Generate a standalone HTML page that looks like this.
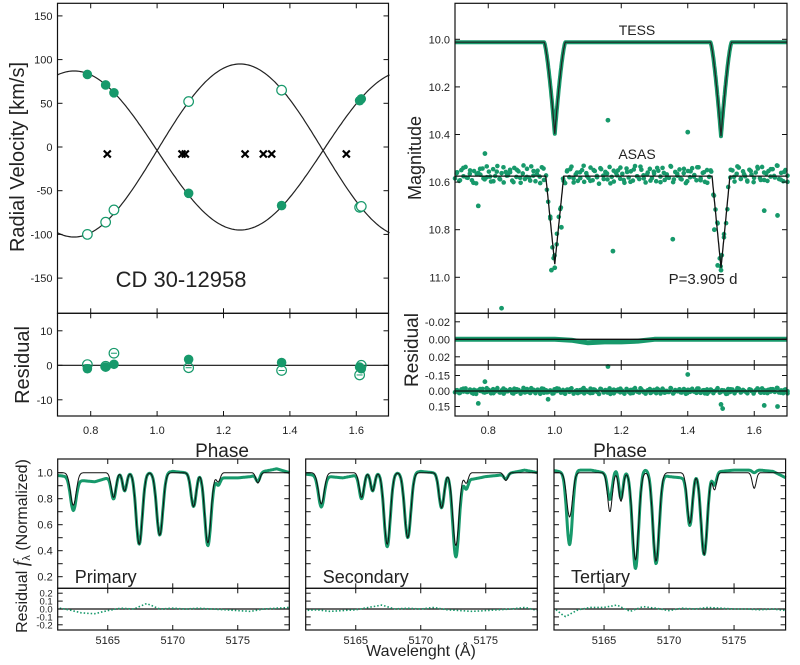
<!DOCTYPE html>
<html><head><meta charset="utf-8"><style>
html,body{margin:0;padding:0;background:#fff;}
svg{display:block;font-family:"Liberation Sans",sans-serif;}
</style></head><body>
<svg id="fig" width="800" height="665" viewBox="0 0 800 665" xmlns="http://www.w3.org/2000/svg"></svg>
<script>
// ---------- DATA ----------
const rvGamma = -4;
const rvK1 = 91;
const rvK2 = 99;
const rvPrimPhase = [0.79,0.845,0.87,1.095,1.375,1.61,1.615];
const rvPrimVel = [83,71,62,-53,-67,53,55];
const rvSecPhase = [0.79,0.845,0.87,1.095,1.375,1.61,1.615];
const rvSecVel = [-100,-86,-72,52,65,-69,-68];
const rvTerPhase = [0.85,1.075,1.085,1.265,1.32,1.345,1.57];
const rvTerVel = [-8,-8,-8,-8,-8,-8,-8];
const rvPrimRes = [-1,-0.5,0.3,1.7,0.8,-0.5,-1];
const rvSecRes = [0.2,-0.3,3.5,-0.7,-1.5,-2.8,0];
const rvYTicks = [150,100,50,0,-50,-100,-150];
const rvResTicks = [10,0,-10];
const phaseTicks = [0.8,1.0,1.2,1.4,1.6];
const ecCenters = [1.0,1.5];
const tessBase = 10.012;
const tessDepths = [0.385,0.395];
const tessWidth = 0.032;
const asasBase = 10.575;
const asasDepths = [0.37,0.385];
const asasWidth = 0.027;
const asasRes = [12,-8,20,-15,5,-25,10,-3,18,-12,28,-6,0,-20,15,8,-10,22,-18,4,-28,13,-5,25,-9,2,-16,19,-22,7,-11,26,-4,14,-19,9,-27,3,21,-13,6,-24,17,-7,11,-2,24,-17,1,-21,16,-10,27,-14,8,-26,12,-1,20,-8,-15,23,-5,10,-23,18,-12,4,29,-18,3,-9,15,-25,7,22,-6,-14,13,-3,26,-20,9,-11,19,-28,5,14,-16,2,25,-7,-19,11,-4,21,-13,6,-22,17,-1,10,-26,24,-9,3,-17,15,-5,27,-12,8,-21,1,18,-24,12,-6,23,-15,7,-10,20,-2,-27,16,-8,4,28,-19,9,-14,22,-3,-23,13,-11,5,19,-16,0,24,-7,-20,11,-25,17,-4,-12,6,-18,9,-30,14,-6,21,-15,3];
const asasRes2 = [-5,18,-22,9,-14,26,-3,-19,12,-27,6,21,-10,15,-24,3,-8,24,-16,10,-30,7,19,-12,-2,27,-20,13,-6,22,-25,1,16,-11,-18,25,-7,11,-29,4,20,-15,8,-21,14,-4,28,-13,2,-23,17,-9,23,-17,5,-26,12,-1,19,-10,-22,24,-6,9,-28,15,-3,13,-19,21,-11,6,-24,18,-8,26,-14,3,-20,11,-5,25,-16,7,-27,14,-2,22,-12,10,-25,17,-7,20,-18,4,-29,16,-9,23];
const asasOutPhase = [1.16,1.40,0.77,0.79,1.175,1.355,0.84,1.63,1.67,0.99,1.0,1.49,1.5,1.02,1.48];
const asasOutMag = [10.34,10.39,10.70,10.48,10.89,10.84,11.13,10.72,10.74,10.97,10.96,10.95,10.97,10.79,10.80];
const asasResOutPhase = [1.16,1.40,0.77,0.79,1.50,1.505,1.63,1.67,0.98];
const asasResOutVal = [-0.24,-0.16,0.12,-0.09,0.13,0.17,0.14,0.15,0.08];
const tessResPhase = [0.7,0.75,0.8,0.85,0.9,0.95,1.0,1.05,1.1,1.15,1.2,1.25,1.3,1.35,1.4,1.45,1.5,1.55,1.6,1.65,1.7];
const tessResVal = [0,0,0,0,0,0,0,0.001,0.004,0.003,0.003,0.002,0,0,0,0,0,0,0,0,0];
const magTicks = [10.0,10.2,10.4,10.6,10.8,11.0];
const specNames = ["Primary","Secondary","Tertiary"];
const lineCenters = [5162.35,5165.45,5166.3,5167.42,5169.0,5171.6,5172.7,5173.5,5176.55];
const modelDepths = [[0.25,0.19,0.14,0.55,0.48,0.26,0.54,0.07,0.08],[0.24,0.19,0.14,0.55,0.50,0.27,0.56,0.08,0.06],[0.34,0.30,0.22,0.67,0.68,0.39,0.63,0.13,0.12]];
const obsDepths = [[0.25,0.18,0.14,0.55,0.48,0.26,0.54,0.06,0.06],[0.24,0.19,0.14,0.57,0.50,0.27,0.62,0.08,0.04],[0.56,0.22,0.22,0.75,0.70,0.39,0.63,0.10,0.02]];
const lineWidths = [0.22,0.18,0.16,0.24,0.24,0.2,0.24,0.15,0.15];
const contWave = [5161,5162,5163,5164,5165,5166,5167,5168,5169,5170,5171,5172,5173,5174,5175,5176,5177,5178,5179];
const obsCont = [[-0.02,-0.03,-0.06,-0.07,-0.04,0,0,0,0,0.01,0,0,-0.03,-0.04,-0.04,-0.03,0.01,0.03,0],[-0.01,-0.02,-0.03,-0.04,-0.02,0,0,0,0,0.01,0,0,-0.04,-0.05,-0.03,-0.02,0,0.02,0],[0.02,0,0.02,0.02,0,0.03,0,0.03,0,-0.03,-0.04,0,0,0.01,0.02,0.02,0.02,0.01,-0.04]];
const specRes = [[0.02,-0.01,-0.05,-0.06,-0.02,0.01,0.0,0.07,0.0,0.01,0.0,0.01,0.0,-0.01,-0.02,-0.03,0.0,0.01,0.02],[-0.02,-0.01,-0.03,-0.02,-0.01,0.02,0.05,0.0,0.01,0.0,0.02,-0.01,-0.02,-0.03,-0.02,-0.01,0.0,0.02,-0.02],[0.03,-0.1,-0.01,0.02,0.02,0.05,-0.03,0.03,0.01,-0.02,0.01,0.0,0.02,0.01,0.0,0.0,-0.01,0.0,-0.02]];
const specYTicks = [0.2,0.3,0.4,0.5,0.6,0.7,0.8,0.9,1.0];
const specYLabels = [0.2,0.4,0.6,0.8,1.0];
const specResTicks = [0.2,0.1,0.0,-0.1,-0.2];
const waveTicks = [5165,5170,5175];

// ---------- HELPERS ----------
const NS="http://www.w3.org/2000/svg";
const svg=document.getElementById('fig');
const G="#17996b";
function mk(tag,attrs,parent){const e=document.createElementNS(NS,tag);for(const k in attrs)e.setAttribute(k,attrs[k]);(parent||svg).appendChild(e);return e;}
function txt(s,x,y,size,anchor,parent,extra){const e=mk('text',Object.assign({x:x,y:y,'font-size':size,'text-anchor':anchor||'middle',fill:'#222'},extra||{}),parent);e.textContent=s;return e;}
function frame(x0,y0,x1,y1,name){const r=mk('rect',{x:x0,y:y0,width:x1-x0,height:y1-y0,fill:'none',stroke:'#111','stroke-width':1.2});return r;}
function hticks(vals,fy,x0,x1,lab,fmt,size){vals.forEach(v=>{const y=fy(v);mk('line',{x1:x0,x2:x0+5,y1:y,y2:y,stroke:'#111'});mk('line',{x1:x1,x2:x1-5,y1:y,y2:y,stroke:'#111'});if(lab){const t=txt(fmt(v),x0-5,y+4,size||11,'end');}});}
function vticks(vals,fx,ys,dirs){vals.forEach(v=>{const x=fx(v);ys.forEach((y,i)=>mk('line',{x1:x,x2:x,y1:y,y2:y+dirs[i]*5,stroke:'#111'}));});}
function poly(pts,attrs){return mk('polyline',Object.assign({points:pts.map(p=>p[0].toFixed(1)+','+p[1].toFixed(1)).join(' '),fill:'none'},attrs));}

// ---------- RV PANEL ----------
const rx=p=>57.5+(p-0.7)*332, ry=v=>147-v*0.874, rry=r=>365.3-r*3.45;
let c1=[],c2=[];for(let p=0.7;p<=1.7001;p+=0.005){c1.push([rx(p),ry(rvGamma-rvK1*Math.sin(2*Math.PI*p))]);c2.push([rx(p),ry(rvGamma+rvK2*Math.sin(2*Math.PI*p))]);}
let l1=poly(c1,{stroke:'#222','stroke-width':1.2});
let l2=poly(c2,{stroke:'#222','stroke-width':1.2});
rvPrimPhase.forEach((p,i)=>{const c=mk('circle',{cx:rx(p),cy:ry(rvPrimVel[i]),r:4.8,fill:G});});
rvSecPhase.forEach((p,i)=>{const c=mk('circle',{cx:rx(p),cy:ry(rvSecVel[i]),r:4.8,fill:'#fff',stroke:G,'stroke-width':1.2});});
rvTerPhase.forEach((p,i)=>{const x=rx(p),y=ry(rvTerVel[i]);const t=mk('path',{d:`M${x-3.5},${y-3.5}L${x+3.5},${y+3.5}M${x-3.5},${y+3.5}L${x+3.5},${y-3.5}`,stroke:'#000','stroke-width':2.2});});
mk('line',{x1:57.5,x2:388.5,y1:rry(0),y2:rry(0),stroke:'#111','stroke-width':1.2});
rvPrimPhase.forEach((p,i)=>{const c=mk('circle',{cx:rx(p),cy:rry(rvPrimRes[i]),r:4.8,fill:G});});
rvSecPhase.forEach((p,i)=>{const x=rx(p),y=rry(rvSecRes[i]);const c=mk('circle',{cx:x,cy:y,r:4.8,fill:'none',stroke:G,'stroke-width':1.2});mk('line',{x1:x-3,x2:x+3,y1:y,y2:y,stroke:G});});
frame(57.5,3.3,388.5,313.3,'rv-plot-frame');frame(57.5,313.3,388.5,416,'rv-residual-frame');
hticks(rvYTicks,ry,57.5,388.5,true,v=>String(v));
hticks(rvResTicks,rry,57.5,388.5,true,v=>String(v));
vticks(phaseTicks,rx,[3.3,313.3,313.3,416],[1,-1,1,-1]);
phaseTicks.forEach(p=>{const t=txt(p.toFixed(1),rx(p),434,11);});
let t;
t=txt('CD 30-12958',181,287,22);
t=txt('Radial Velocity [km/s]',0,0,20,'middle',null,{transform:'translate(24,157) rotate(-90)'});
t=txt('Residual',0,0,20,'middle',null,{transform:'translate(29,365) rotate(-90)'});
t=txt('Phase',222,457,19);

// ---------- LIGHT CURVE PANEL ----------
const lx=p=>455+(p-0.7)*332.5, ly=m=>39.3+(m-10)*238, r1y=r=>339.3+r*875, r2y=r=>391+r*103.3;
function tessModel(p){let m=tessBase;ecCenters.forEach((c,i)=>{const d=Math.abs(p-c);if(d<tessWidth){const u=d/tessWidth;m+=tessDepths[i]*Math.pow(1-u,1.4);}});return m;}
function asasModel(p){let m=asasBase;ecCenters.forEach((c,i)=>{const d=Math.abs(p-c);if(d<asasWidth){m+=asasDepths[i]*(1-d/asasWidth);}});return m;}
let tp=[];for(let p=0.7;p<=1.7001;p+=0.001)tp.push([lx(p),ly(tessModel(p))]);
let tl=poly(tp,{stroke:G,'stroke-width':4,'stroke-linejoin':'round'});
let tm=poly(tp,{stroke:'#222','stroke-width':1.2});
function asasPts(arr,off){arr.forEach((r,i)=>{const p=0.7+(i+off)*(1.0/(arr.length-1+off));const m=asasModel(p)+r*1.3/1000-0.006;const c=mk('circle',{cx:lx(p),cy:ly(m),r:2.3,fill:G});
 const c2=mk('circle',{cx:lx(p),cy:r2y(r/1000),r:2.3,fill:G});});}
asasPts(asasRes,0);asasPts(asasRes2,0.5);
asasOutPhase.forEach((p,i)=>{const c=mk('circle',{cx:lx(p),cy:ly(asasOutMag[i]),r:2.4,fill:G});});
asasResOutPhase.forEach((p,i)=>{const y=Math.max(366.5,r2y(asasResOutVal[i]));const c=mk('circle',{cx:lx(p),cy:y,r:2.4,fill:G});});
let ap=[];for(let p=0.7;p<=1.7001;p+=0.001)ap.push([lx(p),ly(asasModel(p))]);
let am=poly(ap,{stroke:'#111','stroke-width':1.3});
let trp=tessResPhase.map((p,i)=>[lx(p),r1y(tessResVal[i])]);
let tr=poly(trp,{stroke:G,'stroke-width':5,'stroke-linejoin':'round'});
mk('line',{x1:455,x2:787,y1:r1y(0),y2:r1y(0),stroke:'#111','stroke-width':1.3});
mk('line',{x1:455,x2:787,y1:r2y(0),y2:r2y(0),stroke:'#111','stroke-width':1.3});
frame(455,3.3,787,313.3,'lightcurve-frame');frame(455,313.3,787,365,'tess-residual-frame');frame(455,365,787,416,'asas-residual-frame');
hticks(magTicks,ly,455,787,true,v=>v.toFixed(1));
hticks([-0.02,0,0.02],r1y,455,787,true,v=>v.toFixed(2));
hticks([-0.15,0,0.15],r2y,455,787,true,v=>v.toFixed(2));
vticks(phaseTicks,lx,[3.3,313.3,313.3,365,365,416],[1,-1,1,-1,1,-1]);
phaseTicks.forEach(p=>{const t=txt(p.toFixed(1),lx(p),434,11);});
t=txt('TESS',637,35,14);
t=txt('ASAS',637,159,14);
t=txt('P=3.905 d',703,284,15);
t=txt('Magnitude',0,0,18,'middle',null,{transform:'translate(421,158) rotate(-90)'});
t=txt('Residual',0,0,19,'middle',null,{transform:'translate(418,350) rotate(-90)'});
t=txt('Phase',620,457,19);

// ---------- SPECTRA ----------
const lefts=[57.7,305.7,554];
const sy=f=>472.7-(f-1)*130, sry=r=>609-r*79;
function interp(xs,ys,x){if(x<=xs[0])return ys[0];for(let i=1;i<xs.length;i++){if(x<=xs[i]){const u=(x-xs[i-1])/(xs[i]-xs[i-1]);return ys[i-1]+u*(ys[i]-ys[i-1]);}}return ys[ys.length-1];}
function spec(depths,w){let f=1;lineCenters.forEach((c,i)=>{f-=depths[i]*Math.exp(-0.5*Math.pow((w-c)/lineWidths[i],2));});return f;}
lefts.forEach((L,k)=>{
 const wx=w=>L+(w-5161.15)*13.0;
 const g=mk('g',{});
 let ob=[],md=[];
 for(let w=5161.15;w<=5179.0;w+=0.04){ob.push([wx(w),sy(spec(obsDepths[k],w)+interp(contWave,obsCont[k],w))]);md.push([wx(w),sy(spec(modelDepths[k],w))]);}
 let o=poly(ob,{stroke:G,'stroke-width':3,'stroke-linejoin':'round'},g);
 let m=poly(md,{stroke:'#111','stroke-width':1},g);
 mk('line',{x1:L,x2:L+231.6,y1:sry(0),y2:sry(0),stroke:'#111','stroke-width':1.2});
 let rp=[];for(let w=5161.3;w<=5179.0;w+=0.15)rp.push([wx(w),sry(interp(contWave,specRes[k],w))]);
 let rl=poly(rp,{stroke:G,'stroke-width':1.6,'stroke-dasharray':'1.5,2'});
 frame(L,459,L+231.6,588.3,'spectrum-frame');frame(L,588.3,L+231.6,630,'spectrum-residual-frame');
 hticks(specYTicks,sy,L,L+231.6,false);
 hticks(specResTicks,sry,L,L+231.6,false);
 if(k===0){specYLabels.forEach(v=>{const t=txt(v.toFixed(1),L-5,sy(v)+4,11,'end');});
  specResTicks.forEach(v=>{const t=txt(v.toFixed(1),L-5,sry(v)+3.5,9.5,'end');});}
 vticks(waveTicks,wx,[459,588.3,588.3,630],[1,-1,1,-1]);
 waveTicks.forEach(w=>{const t=txt(String(w),wx(w),644,11);});
 const n=txt(specNames[k],L+17,583,18,'start');
});
t=txt('Wavelenght (Å)',421,656,16);
const yl=mk('text',{x:0,y:0,'font-size':16,'text-anchor':'middle',fill:'#222',transform:'translate(27,546) rotate(-90)'});


yl.innerHTML='Residual <tspan font-family="Liberation Serif,serif" font-style="italic" font-size="20">f</tspan><tspan font-size="11" dy="3">λ</tspan><tspan dy="-3"> (Normalized)</tspan>';
</script>
</body></html>
